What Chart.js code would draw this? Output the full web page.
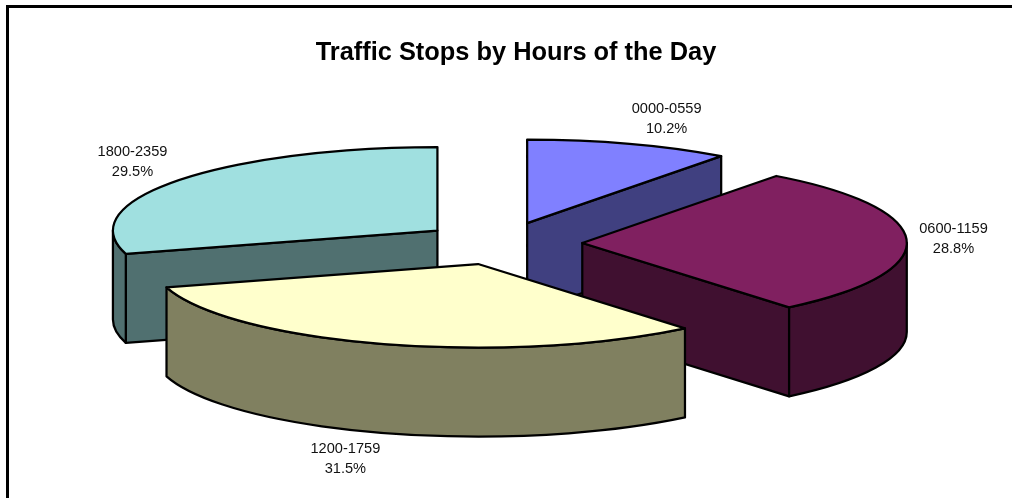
<!DOCTYPE html>
<html>
<head>
<meta charset="utf-8">
<style>
html,body{margin:0;padding:0;background:#fff;overflow:hidden}
#wrap{position:absolute;left:0;top:0;width:1012px;height:498px}
</style>
<script src="https://cdn.jsdelivr.net/npm/chart.js@4/dist/chart.umd.min.js"></script>
</head>
<body>
<div id="wrap"><canvas id="c" width="1012" height="498"></canvas></div>
<script>
const chartTitle = 'Traffic Stops by Hours of the Day';
const categories = ['0000-0559', '0600-1159', '1200-1759', '1800-2359'];
const shareValues = [10.2, 28.8, 31.5, 29.5];
const shareLabels = ['10.2%', '28.8%', '31.5%', '29.5%'];
const topColors = ['#8080FF', '#802060', '#FFFFCC', '#A0E0E0'];
const wallColors = ['#404080', '#401030', '#808060', '#507070'];

// 3-D look of the pie
const PIE_RADIUS = 324.5, TILT = 0.2575, DEPTH = 89, EXPLODE = 80.5, EXPLODE_Y = 21.5;
const PIE_SHIFT_X = -14.2;
const LINE = 2.25;
// label centres relative to the pie centre, as fractions of radius (x) and tilted radius (y)
const labelAnchors = [
  [0.508, -1.49], [1.392, -0.05], [-0.482, 2.58], [-1.138, -0.975]
];

const pie3d = {
  id: 'pie3d',
  beforeDraw(chart) {
    const ctx = chart.ctx;
    ctx.save();
    ctx.fillStyle = '#000';
    ctx.fillRect(6, 5, 1006, 3);
    ctx.fillRect(6, 5, 3, 493);
    ctx.restore();
  },
  beforeDatasetDraw(chart, args) {
    const ctx = chart.ctx;
    const arcs = args.meta.data;
    // back to front
    const order = [3, 0, 1, 2];
    order.forEach(i => {
      const a = arcs[i];
      const s = a.startAngle, e = a.endAngle, R = a.outerRadius;
      const mid = (s + e) / 2;
      const cx = a.x + PIE_SHIFT_X + Math.cos(mid) * EXPLODE;
      const cy = a.y + Math.sin(mid) * EXPLODE_Y;
      const ry = R * TILT;
      const px = t => cx + R * Math.cos(t);
      const py = t => cy + ry * Math.sin(t);
      ctx.save();
      ctx.lineWidth = LINE;
      ctx.lineJoin = 'round';
      ctx.strokeStyle = '#000';
      ctx.fillStyle = wallColors[i];
      const wall = t => {
        ctx.beginPath();
        ctx.moveTo(cx, cy);
        ctx.lineTo(px(t), py(t));
        ctx.lineTo(px(t), py(t) + DEPTH);
        ctx.lineTo(cx, cy + DEPTH);
        ctx.closePath();
        ctx.fill();
        ctx.stroke();
      };
      if (Math.cos(s) < -1e-6) wall(s);
      if (Math.cos(e) > 1e-6) wall(e);
      // outer rim: only the part of the arc that faces the viewer
      const TAU = Math.PI * 2;
      [0, TAU].forEach(k => {
        const from = Math.max(s, k), to = Math.min(e, k + Math.PI);
        if (to > from) {
          ctx.beginPath();
          ctx.ellipse(cx, cy, R, ry, 0, from, to);
          ctx.ellipse(cx, cy + DEPTH, R, ry, 0, to, from, true);
          ctx.closePath();
          ctx.fill();
          ctx.stroke();
        }
      });
      // top face: drawn by the library's own arc element, squashed
      ctx.save();
      ctx.translate(cx, cy);
      ctx.scale(1, TILT);
      ctx.translate(-a.x, -a.y);
      a.draw(ctx);
      ctx.restore();
      ctx.beginPath();
      ctx.moveTo(cx, cy);
      ctx.ellipse(cx, cy, R, ry, 0, s, e);
      ctx.closePath();
      ctx.stroke();
      ctx.restore();
    });
    return false;
  },
  afterDraw(chart) {
    const ctx = chart.ctx;
    const arcs = chart.getDatasetMeta(0).data;
    ctx.save();
    ctx.fillStyle = '#111';
    ctx.font = '14.6px "Liberation Sans", Arial, sans-serif';
    ctx.textAlign = 'center';
    ctx.textBaseline = 'middle';
    arcs.forEach((a, i) => {
      const x = a.x + PIE_SHIFT_X + labelAnchors[i][0] * a.outerRadius;
      const y = a.y + labelAnchors[i][1] * a.outerRadius * TILT;
      ctx.fillText(categories[i], x, y - 10);
      ctx.fillText(shareLabels[i], x, y + 10);
    });
    ctx.restore();
  }
};

new Chart(document.getElementById('c'), {
  type: 'pie',
  data: {
    labels: categories,
    datasets: [{
      data: shareValues,
      backgroundColor: topColors,
      borderWidth: 0
    }]
  },
  options: {
    responsive: false,
    animation: false,
    radius: PIE_RADIUS,
    layout: { padding: { left: 20, right: 0, top: 0, bottom: 79.48 } },
    events: [],
    plugins: {
      legend: { display: false },
      tooltip: { enabled: false },
      title: {
        display: true,
        text: chartTitle,
        color: '#000',
        font: { family: '"Liberation Sans", Arial, sans-serif', size: 25.4, weight: 'bold' },
        padding: { top: 38, bottom: 0 }
      }
    }
  },
  plugins: [pie3d]
});
</script>
</body>
</html>
